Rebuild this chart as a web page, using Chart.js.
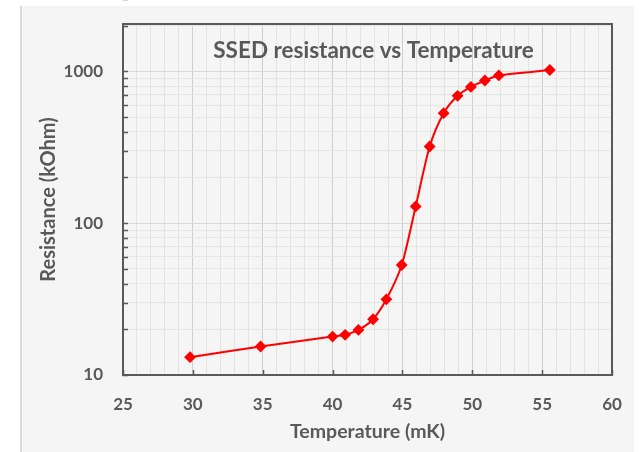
<!DOCTYPE html>
<html>
<head>
<meta charset="utf-8">
<script src="https://cdn.jsdelivr.net/npm/chart.js@4"></script>
<style>
  html, body { margin: 0; padding: 0; background: #ffffff; }
  #panel {
    position: absolute; left: 20px; top: 6px; width: 612px; height: 446px;
    background: #f4f5f4; border-left: 2px solid #d9d9d9;
  }
  #myChart { position: absolute; left: 0; top: 0; }
</style>
</head>
<body>
<div id="panel"></div>
<canvas id="myChart" width="639" height="452"></canvas>
<script>
// data
var temperatures = [29.8, 34.85, 40.0, 40.9, 41.85, 42.9, 43.85, 44.95, 45.95, 46.95, 47.95, 48.95, 49.9, 50.9, 51.9, 55.55];
var resistances = [13.1, 15.4, 17.9, 18.4, 19.8, 23.3, 31.5, 53, 129, 320, 530, 690, 790, 870, 940, 1020];
var yTickLabels = [10, 100, 1000];
var xTickLabels = [25, 30, 35, 40, 45, 50, 55, 60];
var chartTitle = 'SSED resistance vs Temperature';

var textColor = '#595959';
var fontFamily = 'Lato, "Open Sans", sans-serif';

// minor log ticks 10,20,...,90,100,200,... up to 2000
var yGridValues = [];
for (var d = 10; d <= 1000; d *= 10) {
    for (var m = 1; m <= 9; m++) yGridValues.push(m * d);
}
yGridValues.push(2000);

var points = temperatures.map(function (t, i) { return { x: t, y: resistances[i] }; });

// box around the plot, inward tick marks, and the title inside the plot
var framePlugin = {
    id: 'frame',
    beforeDatasetsDraw: function (chart) {
        var c = chart.ctx, a = chart.chartArea;
        c.save();
        c.fillStyle = textColor;
        c.font = 'bold 22.5px ' + fontFamily;
        c.textAlign = 'center';
        c.textBaseline = 'middle';
        c.fillText(chartTitle, (a.left + a.right) / 2 + 6, a.top + 27);
        c.restore();
    },
    afterDraw: function (chart) {
        var c = chart.ctx, a = chart.chartArea;
        var xs = chart.scales.x, ys = chart.scales.y;
        c.save();
        c.strokeStyle = textColor;
        c.lineWidth = 1.5;
        c.beginPath();
        yGridValues.forEach(function (v) {
            var py = Math.round(ys.getPixelForValue(v)) + 0.5;
            c.moveTo(a.left, py);
            c.lineTo(a.left + 5, py);
        });
        xTickLabels.forEach(function (v) {
            var px = Math.round(xs.getPixelForValue(v)) + 0.5;
            c.moveTo(px, a.bottom);
            c.lineTo(px, a.bottom - 5);
        });
        c.stroke();
        c.lineWidth = 2;
        c.strokeRect(a.left, a.top, a.right - a.left, a.bottom - a.top);
        c.restore();
    }
};

var ctx = document.getElementById('myChart').getContext('2d');
var myChart = new Chart(ctx, {
    type: 'line',
    data: {
        datasets: [{
            label: 'Resistance',
            data: points,
            borderColor: '#ff0000',
            backgroundColor: '#ff0000',
            borderWidth: 2,
            pointStyle: 'rectRot',
            pointRadius: 4.5,
            pointHoverRadius: 4.5,
            tension: 0.25,
            fill: false
        }]
    },
    options: {
        responsive: false,
        animation: false,
        layout: { padding: { top: 24, right: 27, left: 0, bottom: 0 } },
        plugins: {
            legend: { display: false },
            tooltip: { enabled: false }
        },
        scales: {
            x: {
                type: 'linear',
                min: 25,
                max: 60,
                afterFit: function (s) {
                    s.height = 77;
                    s.paddingLeft = 0;
                    s.paddingRight = 0;
                },
                ticks: {
                    stepSize: 1,
                    autoSkip: false,
                    maxRotation: 0,
                    padding: 19,
                    color: textColor,
                    font: { family: fontFamily, size: 17, weight: 'bold' },
                    callback: function (v) { return xTickLabels.indexOf(v) >= 0 ? v : ''; }
                },
                grid: {
                    drawTicks: false,
                    lineWidth: 1,
                    color: function (c) {
                        return c.tick && xTickLabels.indexOf(c.tick.value) >= 0 ? '#cfcfcf' : '#e3e3e3';
                    }
                },
                border: { display: false },
                title: {
                    display: true,
                    text: 'Temperature (mK)',
                    color: textColor,
                    font: { family: fontFamily, size: 19.5, weight: 'bold' },
                    padding: { top: 0, bottom: 8.3 }
                }
            },
            y: {
                type: 'logarithmic',
                min: 10,
                max: 2050,
                afterFit: function (s) {
                    s.width = 123;
                    s.paddingTop = 0;
                    s.paddingBottom = 0;
                },
                afterBuildTicks: function (s) {
                    s.ticks = yGridValues.map(function (v) { return { value: v }; });
                },
                ticks: {
                    autoSkip: false,
                    padding: 20,
                    color: textColor,
                    font: { family: fontFamily, size: 17, weight: 'bold' },
                    callback: function (v) { return yTickLabels.indexOf(v) >= 0 ? String(v) : ''; }
                },
                grid: {
                    drawTicks: false,
                    lineWidth: 1,
                    color: function (c) {
                        return c.tick && yTickLabels.indexOf(c.tick.value) >= 0 ? '#d9d9d9' : '#e6e6e6';
                    }
                },
                border: { display: false },
                title: {
                    display: true,
                    text: 'Resistance (kOhm)',
                    color: textColor,
                    font: { family: fontFamily, size: 20, weight: 'bold' },
                    padding: { top: 36.5, bottom: 0 }
                }
            }
        }
    },
    plugins: [framePlugin]
});
</script>
</body>
</html>
